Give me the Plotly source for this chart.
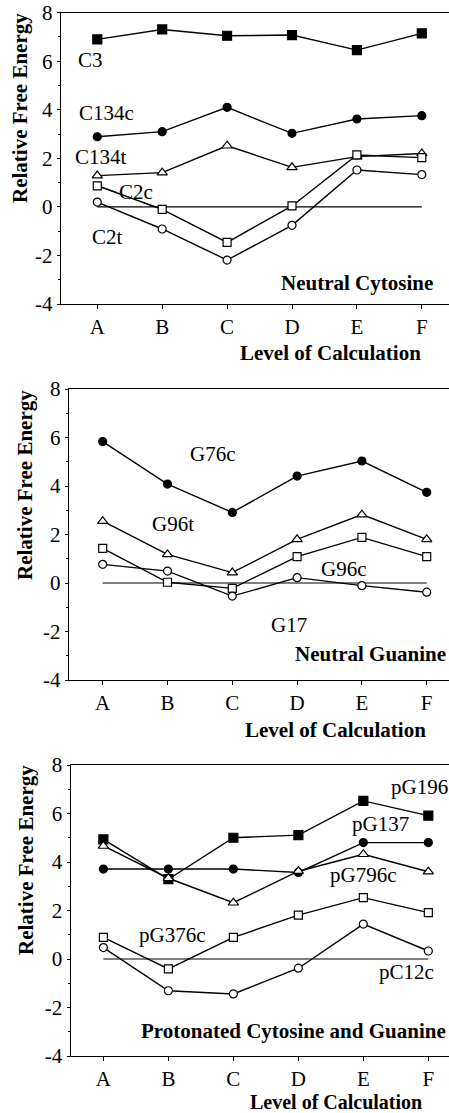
import plotly.graph_objects as go

levels = ["A", "B", "C", "D", "E", "F"]

# Panel 1: Neutral Cytosine
c3 = [6.90, 7.31, 7.05, 7.08, 6.46, 7.15]
c134c = [2.89, 3.10, 4.10, 3.03, 3.62, 3.76]
c134t = [1.29, 1.41, 2.52, 1.63, 2.07, 2.20]
c2c = [0.87, -0.10, -1.46, 0.04, 2.14, 2.03]
c2t = [0.20, -0.91, -2.19, -0.76, 1.52, 1.33]

# Panel 2: Neutral Guanine
g76c = [5.83, 4.08, 2.91, 4.41, 5.03, 3.74]
g96t = [2.55, 1.18, 0.43, 1.80, 2.82, 1.80]
g96c = [1.43, 0.03, -0.22, 1.09, 1.88, 1.09]
g17 = [0.77, 0.49, -0.54, 0.22, -0.11, -0.38]

# Panel 3: Protonated Cytosine and Guanine
pg196 = [4.93, 3.29, 5.00, 5.11, 6.52, 5.91]
pg137 = [3.71, 3.71, 3.71, 3.57, 4.80, 4.80]
pg796c = [4.66, 3.33, 2.32, 3.62, 4.32, 3.60]
pg376c = [0.89, -0.41, 0.89, 1.81, 2.53, 1.91]
pc12c = [0.47, -1.31, -1.44, -0.38, 1.44, 0.33]

baseline = [0, 0, 0, 0, 0, 0]

y_tickvals = [-4, -2, 0, 2, 4, 6, 8]
y_ticktext = ["-4", "-2", "0", "2", "4", "6", "8"]

W, H = 449, 1113
FONT = "Liberation Serif, Times New Roman, serif"
LW = 1.4

fig = go.Figure()

def series(vals, symbol, filled, ax, size=8):
    fig.add_trace(go.Scatter(
        x=levels, y=vals, mode="lines+markers",
        line=dict(color="black", width=LW),
        marker=dict(symbol=symbol, size=size,
                    color="black" if filled else "white",
                    line=dict(color="black", width=1.2)),
        xaxis="x" + ax, yaxis="y" + ax, showlegend=False, cliponaxis=False))

def zero(ax):
    fig.add_trace(go.Scatter(
        x=levels, y=baseline, mode="lines",
        line=dict(color="black", width=1.2), xaxis="x" + ax, yaxis="y" + ax,
        showlegend=False, hoverinfo="skip"))

# panel 1
zero("")
series(c3, "square", True, "", 9)
series(c134c, "circle", True, "")
series(c134t, "triangle-up", False, "", 9)
series(c2c, "square", False, "")
series(c2t, "circle", False, "")
# panel 2
zero("2")
series(g76c, "circle", True, "2")
series(g96t, "triangle-up", False, "2", 9)
series(g96c, "square", False, "2")
series(g17, "circle", False, "2")
# panel 3
zero("3")
series(pg137, "circle", True, "3")
series(pg196, "square", True, "3", 9)
series(pg796c, "triangle-up", False, "3", 9)
series(pg376c, "square", False, "3")
series(pc12c, "circle", False, "3")

def px(x):
    return x / W

def py(y):
    return 1 - y / H

tickfont = dict(family=FONT, size=21, color="black")

def axes(suffix, left, top, bottom, xr):
    xa = dict(domain=[px(left), 1.0], range=xr, type="category", automargin=False,
              showline=True, linecolor="black", linewidth=1.4, mirror=True,
              ticks="outside", ticklen=4, tickcolor="black", tickwidth=1.2,
              showgrid=False, zeroline=False, tickfont=tickfont,
              anchor="y" + suffix)
    ya = dict(domain=[py(bottom), py(top)], range=[-4, 8], automargin=False,
              tickvals=y_tickvals, ticktext=y_ticktext,
              showline=True, linecolor="black", linewidth=1.4,
              ticks="outside", ticklen=3, tickcolor="black", tickwidth=1.2,
              minor=dict(dtick=1, ticks="outside", ticklen=2, tickcolor="black"),
              showgrid=False, zeroline=False, tickfont=tickfont,
              anchor="x" + suffix)
    return xa, ya

x1, y1 = axes("", 61, 12.7, 304, [-0.559, 5.419])
x2, y2 = axes("2", 69, 389, 680, [-0.52, 5.344])
x3, y3 = axes("3", 70.7, 765, 1056, [-0.503, 5.318])

ann = []
shapes = []

def lab(text, x, y, ax, bold=False):
    ann.append(dict(text=("<b>%s</b>" % text) if bold else text, x=x, y=y,
                    xref="x" + ax, yref="y" + ax, showarrow=False,
                    font=dict(family=FONT, size=21, color="black"),
                    xanchor="center", yanchor="middle"))

def leader(x0, y0, x1_, y1_, ax):
    shapes.append(dict(type="line", x0=x0, y0=y0, x1=x1_, y1=y1_,
                       xref="x" + ax, yref="y" + ax,
                       line=dict(color="black", width=1)))

lab("C3", -0.11, 6.05, "")
lab("C134c", 0.145, 3.88, "")
lab("C134t", 0.05, 2.07, "")
lab("C2c", 0.6, 0.63, "")
lab("C2t", 0.16, -1.23, "")
leader(0.30, 0.59, 0.06, 0.82, "")
leader(0.70, 0.18, 0.915, -0.02, "")
lab("Neutral Cytosine", 4.0, -3.13, "", True)

lab("G76c", 1.7, 5.33, "2")
lab("G96t", 1.09, 2.42, "2")
lab("G96c", 3.72, 0.56, "2")
lab("G17", 2.875, -1.73, "2")
lab("Neutral Guanine", 4.13, -2.93, "2", True)

lab("pG196", 4.87, 7.08, "3")
lab("pG137", 4.26, 5.58, "3")
lab("pG796c", 4.01, 3.45, "3")
lab("pG376c", 1.057, 0.98, "3")
lab("pC12c", 4.67, -0.55, "3")
lab("Protonated Cytosine and Guanine", 2.93, -2.96, "3", True)

def paper_text(text, x, y, angle=0, size=21):
    ann.append(dict(text="<b>%s</b>" % text, x=px(x), y=py(y), xref="paper", yref="paper",
                    showarrow=False, textangle=angle,
                    font=dict(family=FONT, size=size, color="black"),
                    xanchor="center", yanchor="middle"))

paper_text("Relative Free Energy", 20, 108, -90)
paper_text("Relative Free Energy", 25, 485, -90)
paper_text("Relative Free Energy", 26, 860, -90)
paper_text("Level of Calculation", 330, 353)
paper_text("Level of Calculation", 335.5, 730)
paper_text("Level of Calculation", 336, 1101.5, size=20)

fig.update_layout(
    template="none",
    width=W, height=H, margin=dict(l=0, r=0, t=0, b=0, pad=0, autoexpand=False),
    paper_bgcolor="white", plot_bgcolor="white",
    xaxis=x1, yaxis=y1, xaxis2=x2, yaxis2=y2, xaxis3=x3, yaxis3=y3,
    annotations=ann, shapes=shapes, showlegend=False,
)

fig.write_html(
    "out.html",
    config={"displayModeBar": False},
    post_script="document.body.style.margin='0';document.body.style.overflow='hidden';",
)
